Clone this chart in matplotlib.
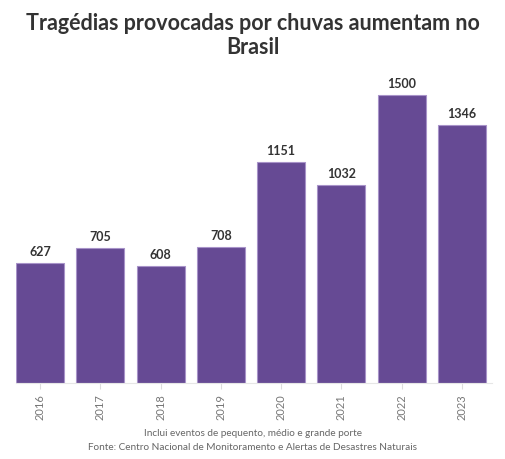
import matplotlib.pyplot as plt

years = ['2016', '2017', '2018', '2019', '2020', '2021', '2022', '2023']
values = [627, 705, 608, 708, 1151, 1032, 1500, 1346]

plt.rcParams['font.family'] = ['Lato', 'DejaVu Sans']

fig = plt.figure(figsize=(5.06, 4.59), dpi=100)
ax = fig.add_axes([16 / 506, 1 - 383 / 459, 476 / 506, 303 / 459])

x = range(len(years))
ax.bar(x, values, width=0.8, color='#664a94', edgecolor='#a893c9', linewidth=0.8)

for i, v in zip(x, values):
    ax.text(i, v + 25, str(v), ha='center', va='bottom', fontsize=9,
            fontweight='bold', color='#333333')

ax.set_xlim(-0.4, 7.5)
ax.set_ylim(0, 1578)
ax.set_xticks(list(x))
ax.set_xticklabels(years, rotation=90, fontsize=8, color='#777777')
ax.tick_params(axis='x', length=4, color='#dddddd', pad=4)
ax.set_yticks([])
for s in ['top', 'right', 'left']:
    ax.spines[s].set_visible(False)
ax.spines['bottom'].set_color('#e6e6e6')

fig.text(0.5, 1 - 13 / 459, 'Tragédias provocadas por chuvas aumentam no\nBrasil',
         ha='center', va='top', fontsize=15.5, fontweight='bold', color='#333333',
         linespacing=1.2)
fig.text(0.5, 1 - 433 / 459, 'Inclui eventos de pequento, médio e grande porte',
         ha='center', va='center', fontsize=7.2, color='#666666')
fig.text(0.5, 1 - 447 / 459, 'Fonte: Centro Nacional de Monitoramento e Alertas de Desastres Naturais',
         ha='center', va='center', fontsize=7.2, color='#666666')

fig.savefig('out.png', dpi=100)
